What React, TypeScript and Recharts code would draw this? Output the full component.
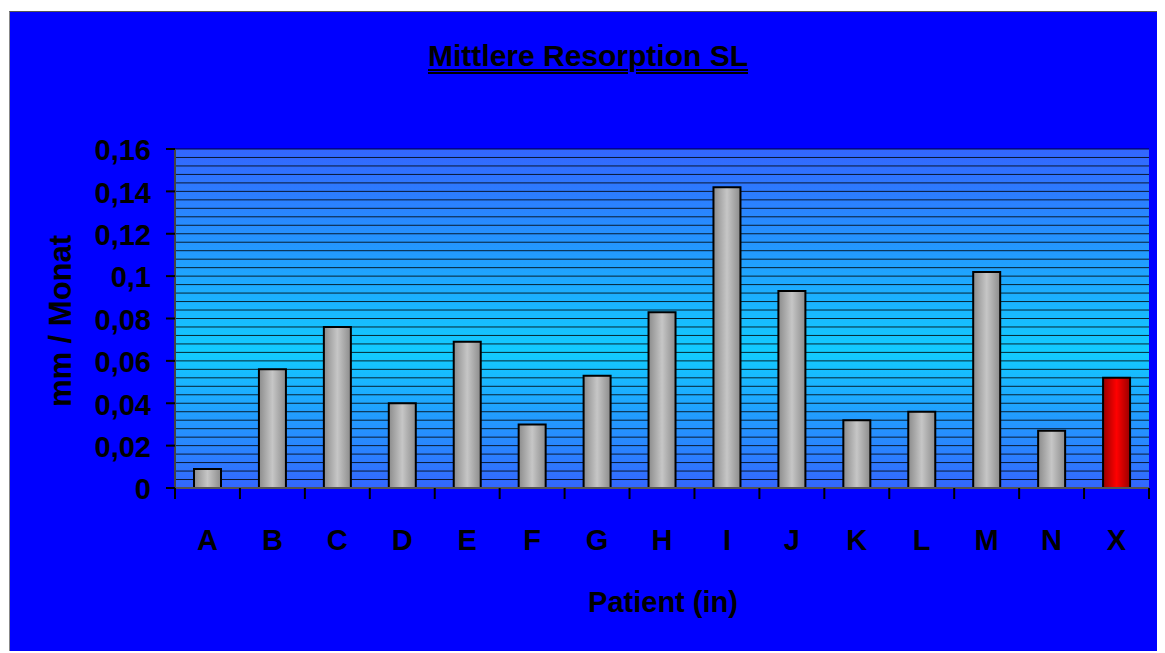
import { BarChart, Bar, Cell, XAxis, YAxis, CartesianGrid } from 'recharts';

// Mittlere Resorption SL, mm per month per patient
const patients = ['A', 'B', 'C', 'D', 'E', 'F', 'G', 'H', 'I', 'J', 'K', 'L', 'M', 'N', 'X'];
const resorption = [0.009, 0.056, 0.076, 0.04, 0.069, 0.03, 0.053, 0.083, 0.142, 0.093, 0.032, 0.036, 0.102, 0.027, 0.052];
const yTicks = [0, 0.02, 0.04, 0.06, 0.08, 0.1, 0.12, 0.14, 0.16];
const highlighted = 'X';

const data = patients.map((name, i) => ({ name, value: resorption[i] }));

// fine grid every 0.004
const gridValues: number[] = [];
for (let i = 0; i <= 40; i++) gridValues.push(+(i * 0.004).toFixed(3));

const W = 1156;
const H = 642;
const margin = { top: 137, right: 17, bottom: 106, left: 80 };
const yAxisW = 85;
const plotW = W - margin.left - margin.right - yAxisW;
const band = plotW / patients.length;

const font = '"Liberation Sans", Arial, sans-serif';

function XTick(props: any) {
  const { x, y, payload, index } = props;
  return (
    <g>
      {index === 0 && <line x1={x - band / 2} x2={x - band / 2} y1={y} y2={y + 11} stroke="#000" strokeWidth={2} />}
      <line x1={x + band / 2} x2={x + band / 2} y1={y} y2={y + 11} stroke="#000" strokeWidth={2} />
      <text x={x} y={y + 62} textAnchor="middle" fontFamily={font} fontWeight="bold" fontSize={29} fill="#000">
        {payload.value}
      </text>
    </g>
  );
}

export default function App() {
  return (
    <div
      style={{
        position: 'relative',
        top: 3,
        left: 1,
        width: W,
        height: H,
        background: '#0000ff',
        borderTop: '1px solid #555',
        borderLeft: '1px solid #888',
        fontFamily: font,
      }}
    >
      <div
        style={{
          position: 'absolute',
          left: 0,
          width: W,
          top: 27,
          textAlign: 'center',
          fontSize: 30,
          fontWeight: 'bold',
          lineHeight: '34px',
          color: '#000',
          textDecoration: 'underline double',
          textDecorationThickness: 2,
          textUnderlineOffset: 3,
        }}
      >
        Mittlere Resorption SL
      </div>
      <div
        style={{
          position: 'absolute',
          left: 51,
          top: 309,
          transform: 'translate(-50%, -50%) rotate(-90deg)',
          fontSize: 31,
          fontWeight: 'bold',
          whiteSpace: 'nowrap',
          color: '#000',
        }}
      >
        mm / Monat
      </div>
      <div
        style={{
          position: 'absolute',
          left: 653,
          top: 590,
          transform: 'translate(-50%, -50%)',
          fontSize: 29,
          fontWeight: 'bold',
          whiteSpace: 'nowrap',
          color: '#000',
        }}
      >
        Patient (in)
      </div>
      <div style={{ position: 'absolute', left: 0, top: 0 }}>
        <BarChart width={W} height={H} data={data} margin={margin} barSize={27}>
          <defs>
            <linearGradient id="plotBg" x1="0" y1="0" x2="0" y2="1">
              <stop offset="0%" stopColor="#3366ff" />
              <stop offset="60%" stopColor="#12ccff" />
              <stop offset="100%" stopColor="#3366ff" />
            </linearGradient>
            <linearGradient id="greyBar" x1="0" y1="0" x2="1" y2="0">
              <stop offset="0%" stopColor="#8c8c8c" />
              <stop offset="50%" stopColor="#c6c6c6" />
              <stop offset="100%" stopColor="#8c8c8c" />
            </linearGradient>
            <linearGradient id="redBar" x1="0" y1="0" x2="1" y2="0">
              <stop offset="0%" stopColor="#990000" />
              <stop offset="50%" stopColor="#ff0000" />
              <stop offset="100%" stopColor="#990000" />
            </linearGradient>
          </defs>
          <CartesianGrid
            vertical={false}
            horizontalValues={gridValues}
            fill="url(#plotBg)"
            fillOpacity={1}
            stroke="#000"
            strokeOpacity={0.8}
          />
          <XAxis
            dataKey="name"
            height={60}
            tick={<XTick />}
            tickLine={false}
            tickSize={0}
            tickMargin={0}
            interval={0}
            axisLine={{ stroke: '#555', strokeWidth: 2 }}
          />
          <XAxis
            xAxisId="top"
            dataKey="name"
            orientation="top"
            height={0}
            tick={false}
            tickLine={false}
            axisLine={{ stroke: '#777', strokeWidth: 2 }}
          />
          <YAxis
            width={yAxisW}
            domain={[0, 0.16]}
            ticks={yTicks}
            interval={0}
            tickSize={9}
            tickMargin={15}
            tickLine={{ stroke: '#000', strokeWidth: 2 }}
            axisLine={{ stroke: '#444', strokeWidth: 2 }}
            tickFormatter={(v: number) => String(v).replace('.', ',')}
            tick={{ fill: '#000', fontSize: 29, fontWeight: 'bold', fontFamily: font, dy: 1 }}
          />
          <YAxis
            yAxisId="right"
            orientation="right"
            width={0}
            domain={[0, 0.16]}
            tick={false}
            tickLine={false}
            axisLine={{ stroke: '#7f7fbf', strokeWidth: 2 }}
          />
          <Bar dataKey="value" stroke="#000" strokeWidth={2} isAnimationActive={false}>
            {data.map((d) => (
              <Cell key={d.name} fill={d.name === highlighted ? 'url(#redBar)' : 'url(#greyBar)'} />
            ))}
          </Bar>
        </BarChart>
      </div>
    </div>
  );
}
